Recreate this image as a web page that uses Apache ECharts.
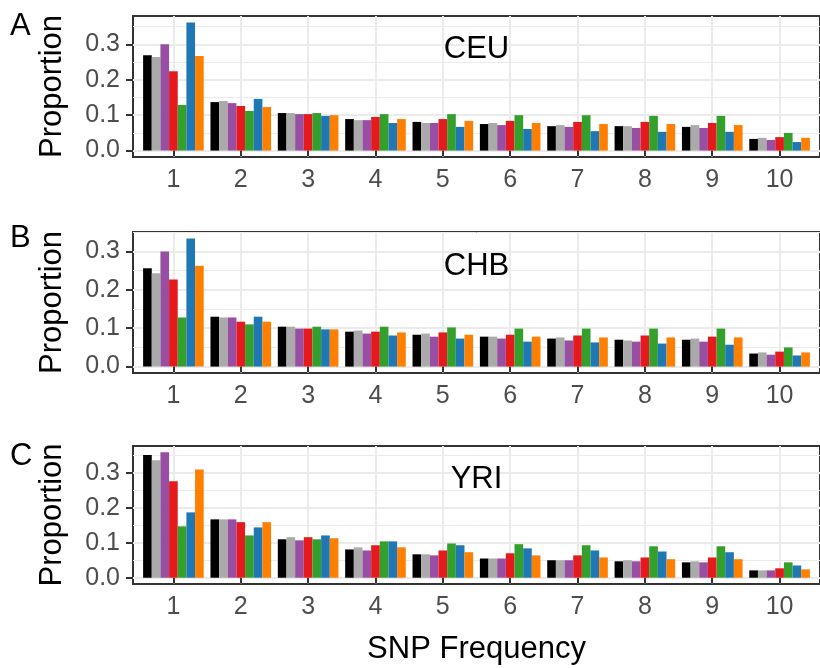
<!DOCTYPE html>
<html>
<head>
<meta charset="utf-8">
<script src="https://cdn.jsdelivr.net/npm/echarts@6/dist/echarts.min.js"></script>
<style>
  html, body { margin: 0; padding: 0; background: #fff; }
  #chart { width: 820px; height: 668px; }
</style>
</head>
<body>
<div id="chart"></div>
<script>
// SNP frequency classes (x axis)
var freqs = [1, 2, 3, 4, 5, 6, 7, 8, 9, 10];
var groupNames = ['g1', 'g2', 'g3', 'g4', 'g5', 'g6', 'g7'];
var colors = ['#000000', '#AAAAAA', '#984EA3', '#E41A1C', '#33A02C', '#1F78B4', '#FF7F00'];

// proportions per group (one row per colour)
var ceu = [
  [0.269, 0.137, 0.106, 0.089, 0.081, 0.075, 0.069, 0.069, 0.067, 0.033],
  [0.264, 0.140, 0.106, 0.086, 0.078, 0.078, 0.072, 0.069, 0.072, 0.036],
  [0.300, 0.134, 0.103, 0.086, 0.078, 0.072, 0.067, 0.064, 0.064, 0.030],
  [0.224, 0.126, 0.103, 0.095, 0.089, 0.084, 0.081, 0.081, 0.078, 0.038],
  [0.129, 0.112, 0.106, 0.103, 0.103, 0.100, 0.100, 0.098, 0.098, 0.050],
  [0.362, 0.146, 0.098, 0.078, 0.067, 0.061, 0.055, 0.053, 0.053, 0.024],
  [0.267, 0.123, 0.100, 0.089, 0.084, 0.078, 0.075, 0.075, 0.072, 0.036]
];
var chb = [
  [0.256, 0.130, 0.104, 0.091, 0.083, 0.078, 0.073, 0.070, 0.070, 0.034],
  [0.243, 0.128, 0.104, 0.094, 0.086, 0.078, 0.076, 0.068, 0.073, 0.037],
  [0.300, 0.128, 0.099, 0.086, 0.078, 0.073, 0.068, 0.065, 0.065, 0.031],
  [0.227, 0.117, 0.099, 0.091, 0.089, 0.083, 0.081, 0.081, 0.078, 0.039],
  [0.128, 0.110, 0.104, 0.104, 0.102, 0.099, 0.099, 0.099, 0.099, 0.050],
  [0.334, 0.130, 0.097, 0.081, 0.073, 0.065, 0.063, 0.060, 0.057, 0.029],
  [0.263, 0.117, 0.097, 0.089, 0.083, 0.078, 0.076, 0.076, 0.076, 0.037]
];
var yri = [
  [0.351, 0.167, 0.110, 0.081, 0.067, 0.055, 0.050, 0.047, 0.044, 0.021],
  [0.336, 0.167, 0.116, 0.087, 0.067, 0.055, 0.050, 0.050, 0.047, 0.021],
  [0.359, 0.167, 0.107, 0.078, 0.064, 0.055, 0.050, 0.047, 0.044, 0.021],
  [0.276, 0.159, 0.116, 0.093, 0.078, 0.070, 0.064, 0.058, 0.058, 0.027],
  [0.147, 0.121, 0.110, 0.104, 0.098, 0.096, 0.093, 0.090, 0.090, 0.044],
  [0.187, 0.144, 0.121, 0.104, 0.093, 0.084, 0.078, 0.075, 0.073, 0.035],
  [0.310, 0.159, 0.113, 0.087, 0.073, 0.064, 0.058, 0.053, 0.053, 0.024]
];

var panels = [ceu, chb, yri];
var panelLetters = ['A', 'B', 'C'];
var popNames = ['CEU', 'CHB', 'YRI'];
var popLabelX = 5.5;
var popLabelY = [0.286, 0.262, 0.28];
var yTicks = [0, 0.1, 0.2, 0.3];
var yMinorTicks = [0.05, 0.15, 0.25, 0.35];

var font = 'Liberation Sans, Arial, Helvetica, sans-serif';
var gridBoxes = [
  { top: 16, height: 141 },
  { top: 232, height: 141 },
  { top: 446, height: 138 }
];
var letterY = [27, 239, 457];

var chart = echarts.init(document.getElementById('chart'));

var option = {
  animation: false,
  backgroundColor: '#fff',
  textStyle: { fontFamily: font },
  grid: [],
  xAxis: [],
  yAxis: [],
  series: [],
  graphic: []
};

panels.forEach(function (vals, p) {
  var maxVal = 0;
  vals.forEach(function (row) { row.forEach(function (v) { if (v > maxVal) maxVal = v; }); });
  var pad = maxVal * 0.05; // ggplot default expansion

  option.grid.push({
    left: 133, right: -7,
    top: gridBoxes[p].top, height: gridBoxes[p].height,
    show: true, borderColor: '#333333', borderWidth: 2,
    backgroundColor: 'transparent'
  });

  option.xAxis.push({
    type: 'value', gridIndex: p,
    min: 0.4, max: 10.6,
    axisLine: { show: false },
    axisTick: { show: true, customValues: freqs, length: 6, lineStyle: { color: '#333333', width: 2 } },
    axisLabel: {
      customValues: freqs, margin: 11, fontSize: 25, color: '#4D4D4D', fontFamily: font,
      formatter: function (v) { return String(Math.round(v)); }
    },
    splitLine: { show: true, lineStyle: { color: '#EBEBEB', width: 2 } },
    name: p === 2 ? 'SNP Frequency' : '',
    nameLocation: 'middle', nameGap: 50,
    nameTextStyle: { fontSize: 31, color: '#000', fontFamily: font }
  });

  // main y axis: labels, ticks, major grid lines
  option.yAxis.push({
    type: 'value', gridIndex: p,
    min: -pad, max: maxVal + pad,
    axisLine: { show: false },
    axisTick: { show: true, customValues: yTicks, length: 7, lineStyle: { color: '#333333', width: 2 } },
    axisLabel: {
      customValues: yTicks, margin: 13, fontSize: 25, color: '#4D4D4D', fontFamily: font,
      formatter: function (v) { return v.toFixed(1); }
    },
    splitLine: { show: true, lineStyle: { color: '#EBEBEB', width: 2 } },
    name: 'Proportion', nameLocation: 'middle', nameRotate: 90, nameGap: 65,
    nameTextStyle: { fontSize: 31, color: '#000', fontFamily: font }
  });
  // second y axis only for the thin minor grid lines
  option.yAxis.push({
    type: 'value', gridIndex: p, position: 'left',
    min: -pad, max: maxVal + pad,
    axisLine: { show: false },
    axisTick: { show: false, customValues: yMinorTicks },
    axisLabel: { show: false, customValues: yMinorTicks },
    splitLine: { show: true, lineStyle: { color: '#EBEBEB', width: 1 } }
  });

  vals.forEach(function (row, s) {
    option.series.push({
      type: 'bar',
      name: groupNames[s],
      xAxisIndex: p, yAxisIndex: p * 2,
      barGap: '0%', barCategoryGap: '10%',
      itemStyle: { color: colors[s] },
      data: freqs.map(function (f, k) { return [f, row[k]]; })
    });
  });

  // population label inside the panel
  option.series.push({
    type: 'scatter',
    xAxisIndex: p, yAxisIndex: p * 2,
    symbolSize: 0, silent: true,
    itemStyle: { opacity: 1 },
    label: {
      show: true, position: 'inside', fontSize: 31, color: '#000000', opacity: 1,
      fontFamily: font
    },
    data: [{ value: [popLabelX, popLabelY[p]], label: { formatter: popNames[p] } }]
  });

  option.graphic.push({
    type: 'text', left: 10, top: letterY[p] - 16,
    style: { text: panelLetters[p], fontSize: 31, fill: '#000', font: '31px ' + font }
  });
});

chart.setOption(option);
</script>
</body>
</html>
